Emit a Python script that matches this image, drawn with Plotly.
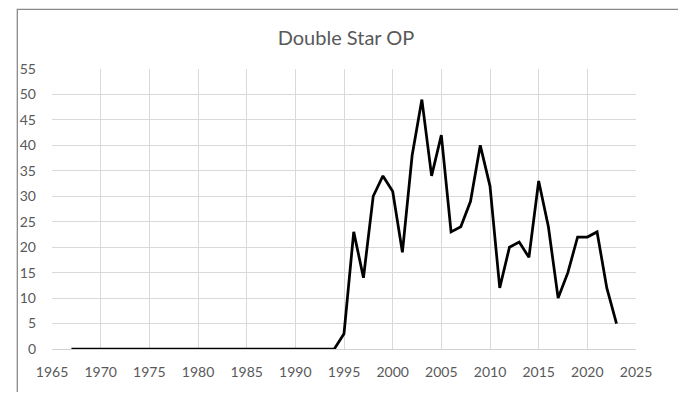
import plotly.graph_objects as go

years = list(range(1967, 2024))
counts = [0] * 28 + [3, 23, 14, 30, 34, 31, 19, 38, 49, 34, 42, 23, 24, 29, 40,
                     32, 12, 20, 21, 18, 33, 24, 10, 15, 22, 22, 23, 12, 5]

fig = go.Figure()
fig.add_trace(go.Scatter(x=years, y=counts, mode='lines',
                         line=dict(color='black', width=2.75)))

grey = '#595959'
# page body has an 8px margin, so the figure is sized to stay inside the window
fig.update_layout(
    width=676, height=384,
    margin=dict(l=39, r=48, t=61, b=39),
    paper_bgcolor='white', plot_bgcolor='white',
    showlegend=False,
    font=dict(family='Lato, Carlito, sans-serif', color=grey, size=14),
    title=dict(text='Double Star OP', x=0.5, xanchor='center', y=0.922, yanchor='middle',
               font=dict(size=20, color=grey)),
    xaxis=dict(range=[1965, 2025], dtick=5, tick0=1965, showgrid=True, gridcolor='#d9d9d9',
               gridwidth=1, zeroline=False, showline=True, linecolor='#d0d0d0', ticks='',
               ticklabelstandoff=10),
    yaxis=dict(range=[0, 55], dtick=5, showgrid=True, gridcolor='#d9d9d9', gridwidth=1,
               zeroline=False, showline=False, ticks='', ticklabelstandoff=15),
    shapes=[dict(type='rect', xref='paper', yref='paper', x0=-0.0594, x1=1.0764, y0=-0.3, y1=1.213,
                 line=dict(color='#898989', width=1.3))],
)

fig.write_html('out.html')
